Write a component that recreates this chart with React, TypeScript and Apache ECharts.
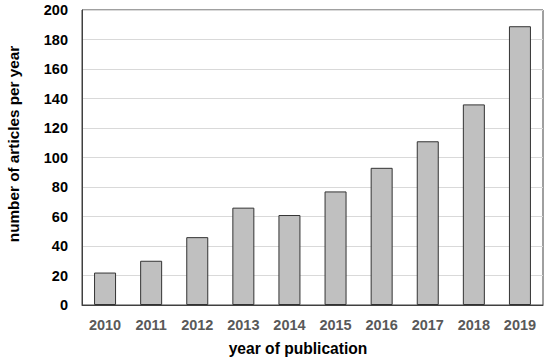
import React, { useEffect, useRef } from "react";
import * as echarts from "echarts";

const years = ["2010", "2011", "2012", "2013", "2014", "2015", "2016", "2017", "2018", "2019"];
const articles = [22, 30, 46, 66, 61, 77, 93, 111, 136, 189];
const yTitle = "number of articles per year";
const xTitle = "year of publication";

export default function App() {
  const ref = useRef<HTMLDivElement>(null);
  useEffect(() => {
    const chart = echarts.init(ref.current!, null, { renderer: "svg" });
    chart.setOption({
      animation: false,
      backgroundColor: "#ffffff",
      textStyle: { fontFamily: "Liberation Sans, Arial, sans-serif" },
      grid: {
        left: 82,
        right: 7,
        top: 10,
        bottom: 57,
        show: true,
        borderColor: "#404040",
        borderWidth: 1,
        backgroundColor: "transparent",
      },
      xAxis: {
        type: "category",
        data: years,
        axisLine: { show: true, lineStyle: { color: "#404040", width: 1 } },
        axisTick: { show: false },
        axisLabel: {
          color: "#595959",
          fontWeight: "bold",
          fontSize: 14.5,
          margin: 12,
          fontFamily: "Liberation Sans, Arial, sans-serif",
        },
      },
      yAxis: {
        type: "value",
        min: 0,
        max: 200,
        interval: 20,
        axisLine: { show: true, lineStyle: { color: "#404040", width: 1 } },
        axisTick: { show: false },
        splitLine: { show: true, lineStyle: { color: "#d9d9d9", width: 1 } },
        axisLabel: {
          color: "#000000",
          fontWeight: "bold",
          fontSize: 14.5,
          margin: 14,
          fontFamily: "Liberation Sans, Arial, sans-serif",
        },
      },
      graphic: [
        {
          type: "text",
          x: 13,
          y: 144,
          rotation: Math.PI / 2,
          style: {
            text: yTitle,
            fill: "#000000",
            font: "bold 15.3px 'Liberation Sans', Arial, sans-serif",
            textAlign: "center",
            textVerticalAlign: "middle",
          },
        },
        {
          type: "text",
          x: 298,
          y: 348,
          style: {
            text: xTitle,
            fill: "#000000",
            font: "bold 15.6px 'Liberation Sans', Arial, sans-serif",
            textAlign: "center",
            textVerticalAlign: "middle",
          },
        },
      ],
      series: [
        {
          type: "bar",
          data: articles,
          barWidth: 22,
          itemStyle: { color: "#c0c0c0", borderColor: "#333333", borderWidth: 1 },
        },
      ],
    });
    return () => chart.dispose();
  }, []);
  return (
    <div
      ref={ref}
      style={{ position: "absolute", left: 0, top: 0, width: 550, height: 362 }}
    />
  );
}
